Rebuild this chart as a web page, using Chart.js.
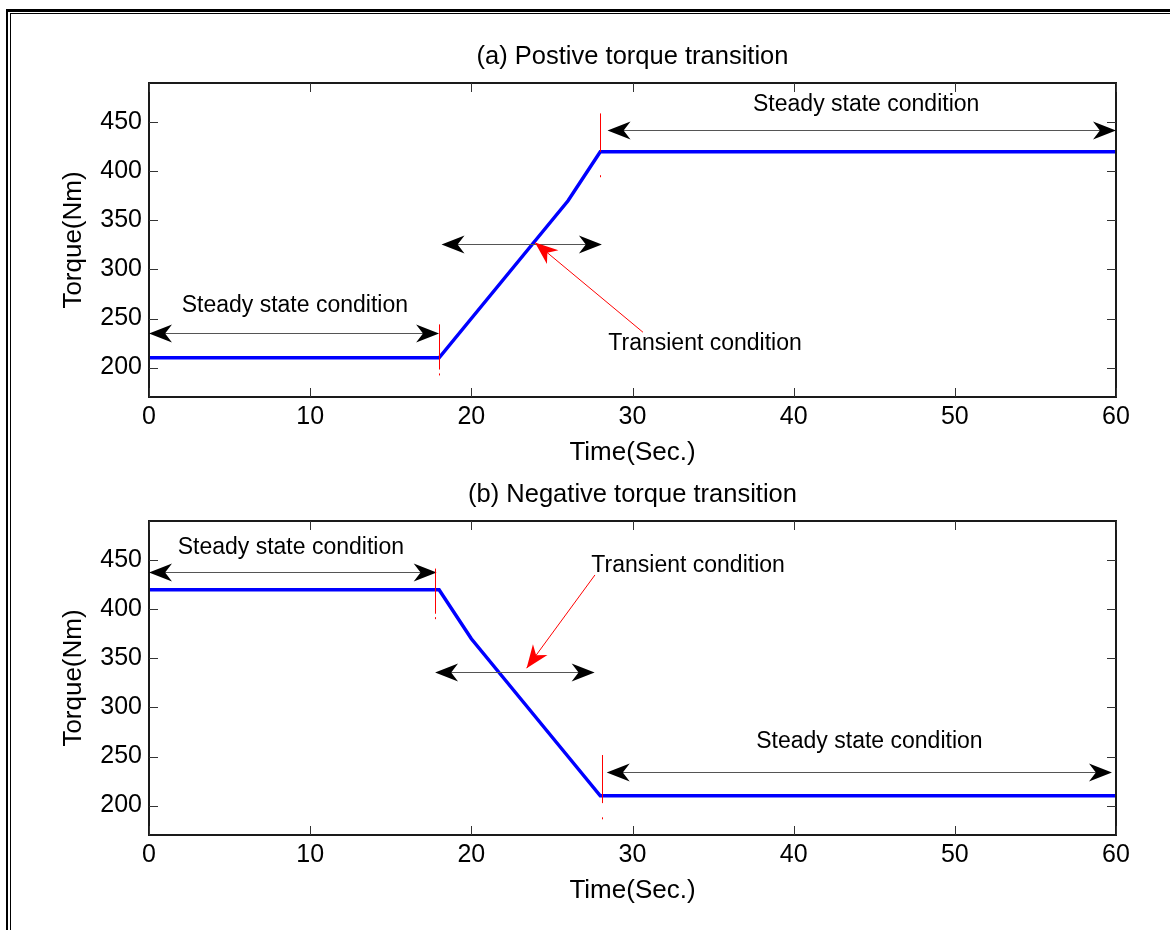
<!DOCTYPE html>
<html>
<head>
<meta charset="utf-8">
<title>Torque transition</title>
<script src="https://cdn.jsdelivr.net/npm/chart.js@4.4.1/dist/chart.umd.min.js"></script>
<style>
    body { margin: 0; background: #fff; }
    #page { position: relative; width: 1170px; height: 930px; overflow: hidden; background: #fff; }
    .rule { position: absolute; background: #000; }
    canvas { position: absolute; left: 0; }
</style>
</head>
<body>
<div id="page">
    <!-- double page rule, top and left -->
    <div class="rule" style="left:6px; top:9px; width:1164px; height:3px;"></div>
    <div class="rule" style="left:10px; top:13px; width:1160px; height:1px;"></div>
    <div class="rule" style="left:6px; top:9px; width:2px; height:921px;"></div>
    <div class="rule" style="left:10px; top:13px; width:1px; height:917px;"></div>
    <canvas id="rise-chart" width="1170" height="465" style="top:0"></canvas>
    <canvas id="fall-chart" width="1170" height="465" style="top:465px"></canvas>
</div>
<script>
// Time axis and torque samples
const timeSec = [0, 18, 20, 22, 24, 26, 28, 60];
const torqueRise = [210, 210, 250, 290, 330, 370, 420, 420];
const torqueFall = [420, 420, 370, 330, 290, 250, 210, 210];

// Tick labels
const timeTicks = [0, 10, 20, 30, 40, 50, 60];
const torqueTicks = [200, 250, 300, 350, 400, 450];

const FONT = '"Liberation Sans", Arial, Helvetica, sans-serif';

// Notes drawn over each plot, in data units (sec, Nm)
const riseNotes = {
    title: '(a) Postive torque transition',
    arrows: [
        { from: 0, to: 18, at: 235 },
        { from: 28.45, to: 60, at: 442.5 },
        { from: 18.15, to: 28.1, at: 326 }
    ],
    markers: [
        { t: 18, top: 244, bottom: 198, dot: 193 },
        { t: 28, top: 459, bottom: 420, dot: 395 }
    ],
    pointer: { from: [30.65, 236], to: [23.95, 327.5] },
    labels: [
        { text: 'Steady state condition', t: 9.05, v: 256.6 },
        { text: 'Steady state condition', t: 44.5, v: 461 },
        { text: 'Transient condition', t: 34.5, v: 218.4 }
    ]
};

const fallNotes = {
    title: '(b) Negative torque transition',
    arrows: [
        { from: 0, to: 17.85, at: 438.3 },
        { from: 17.75, to: 27.65, at: 336.4 },
        { from: 28.4, to: 59.75, at: 233.7 }
    ],
    markers: [
        { t: 17.75, top: 441.5, bottom: 395.5, dot: 391 },
        { t: 28.08, top: 251.5, bottom: 202.5, dot: 187 }
    ],
    pointer: { from: [27.67, 435], to: [23.43, 340] },
    labels: [
        { text: 'Steady state condition', t: 8.8, v: 455.9 },
        { text: 'Transient condition', t: 33.45, v: 438.5 },
        { text: 'Steady state condition', t: 44.7, v: 258.2 }
    ]
};

function arrowHead(ctx, tipX, tipY, angle, color) {
    const len = 23, half = 9;
    ctx.save();
    ctx.translate(tipX, tipY);
    ctx.rotate(angle);
    ctx.fillStyle = color;
    ctx.beginPath();
    ctx.moveTo(0, 0);
    ctx.lineTo(-len, -half);
    ctx.lineTo(-len * 0.7, 0);
    ctx.lineTo(-len, half);
    ctx.closePath();
    ctx.fill();
    ctx.restore();
}

// Box, inward ticks, titles and the arrow notes
const matlabFrame = {
    id: 'matlabFrame',
    afterDatasetsDraw(chart, args, opts) {
        const { ctx, chartArea: area, scales: { x, y } } = chart;
        const notes = opts.notes;
        ctx.save();

        ctx.strokeStyle = '#1a1a1a';
        ctx.lineWidth = 2;
        ctx.strokeRect(area.left, area.top, area.right - area.left, area.bottom - area.top);

        ctx.strokeStyle = '#333';
        ctx.lineWidth = 1;
        ctx.beginPath();
        timeTicks.forEach(t => {
            const px = Math.round(x.getPixelForValue(t)) + 0.5;
            ctx.moveTo(px, area.bottom); ctx.lineTo(px, area.bottom - 9);
            ctx.moveTo(px, area.top); ctx.lineTo(px, area.top + 9);
        });
        torqueTicks.forEach(v => {
            const py = Math.round(y.getPixelForValue(v)) + 0.5;
            ctx.moveTo(area.left, py); ctx.lineTo(area.left + 9, py);
            ctx.moveTo(area.right, py); ctx.lineTo(area.right - 9, py);
        });
        ctx.stroke();

        // black double arrows
        notes.arrows.forEach(a => {
            const x1 = x.getPixelForValue(a.from), x2 = x.getPixelForValue(a.to);
            const py = Math.round(y.getPixelForValue(a.at)) + 0.5;
            ctx.strokeStyle = '#555';
            ctx.beginPath();
            ctx.moveTo(x1 + 5, py);
            ctx.lineTo(x2 - 5, py);
            ctx.stroke();
            arrowHead(ctx, x1, py, Math.PI, '#000');
            arrowHead(ctx, x2, py, 0, '#000');
        });

        // red markers at the transition edges
        ctx.strokeStyle = '#ff0000';
        notes.markers.forEach(m => {
            const px = Math.round(x.getPixelForValue(m.t)) + 0.5;
            ctx.beginPath();
            ctx.moveTo(px, y.getPixelForValue(m.top));
            ctx.lineTo(px, y.getPixelForValue(m.bottom));
            const d = y.getPixelForValue(m.dot);
            ctx.moveTo(px, d - 1);
            ctx.lineTo(px, d + 1);
            ctx.stroke();
        });

        // red pointer to the transient span
        const p = notes.pointer;
        const fx = x.getPixelForValue(p.from[0]), fy = y.getPixelForValue(p.from[1]);
        const tx = x.getPixelForValue(p.to[0]), ty = y.getPixelForValue(p.to[1]);
        ctx.beginPath();
        ctx.moveTo(fx, fy);
        ctx.lineTo(tx, ty);
        ctx.stroke();
        arrowHead(ctx, tx, ty, Math.atan2(ty - fy, tx - fx), '#ff0000');

        ctx.fillStyle = '#000';
        ctx.textAlign = 'center';
        ctx.textBaseline = 'alphabetic';
        ctx.font = `23px ${FONT}`;
        notes.labels.forEach(l => {
            ctx.fillText(l.text, x.getPixelForValue(l.t), y.getPixelForValue(l.v));
        });

        const midX = (area.left + area.right) / 2;
        ctx.font = `25.5px ${FONT}`;
        ctx.fillText(notes.title, midX, area.top - 19);
        ctx.font = `26px ${FONT}`;
        ctx.fillText('Time(Sec.)', midX, area.bottom + 63);
        ctx.translate(area.left - 68, (area.top + area.bottom) / 2);
        ctx.rotate(-Math.PI / 2);
        ctx.fillText('Torque(Nm)', 0, 0);

        ctx.restore();
    }
};

function makeChart(canvasId, torque, notes, padTop, padBottom) {
    const ctx = document.getElementById(canvasId).getContext('2d');
    return new Chart(ctx, {
        type: 'line',
        data: {
            datasets: [{
                data: timeSec.map((t, i) => ({ x: t, y: torque[i] })),
                borderColor: '#0000ff',
                borderWidth: 3.5,
                pointRadius: 0,
                tension: 0,
                fill: false
            }]
        },
        options: {
            responsive: false,
            animation: false,
            events: [],
            layout: { padding: { left: 0, right: 54, top: padTop, bottom: padBottom } },
            plugins: {
                legend: { display: false },
                tooltip: { enabled: false },
                matlabFrame: { notes }
            },
            scales: {
                x: {
                    type: 'linear',
                    min: 0,
                    max: 60,
                    grid: { display: false, drawTicks: false },
                    border: { display: false },
                    afterBuildTicks: s => { s.ticks = timeTicks.map(v => ({ value: v })); },
                    ticks: { color: '#000', font: { family: FONT, size: 25 }, padding: 5, maxRotation: 0, autoSkip: false },
                    afterFit: s => { s.height = 30; }
                },
                y: {
                    type: 'linear',
                    min: 170,
                    max: 490,
                    grid: { display: false, drawTicks: false },
                    border: { display: false },
                    afterBuildTicks: s => { s.ticks = torqueTicks.map(v => ({ value: v })); },
                    ticks: { color: '#000', font: { family: FONT, size: 25 }, padding: 7, autoSkip: false },
                    afterFit: s => { s.width = 149; }
                }
            }
        },
        plugins: [matlabFrame]
    });
}

// Initialize charts
makeChart('rise-chart', torqueRise, riseNotes, 83, 38);
makeChart('fall-chart', torqueFall, fallNotes, 56, 65);
</script>
</body>
</html>
